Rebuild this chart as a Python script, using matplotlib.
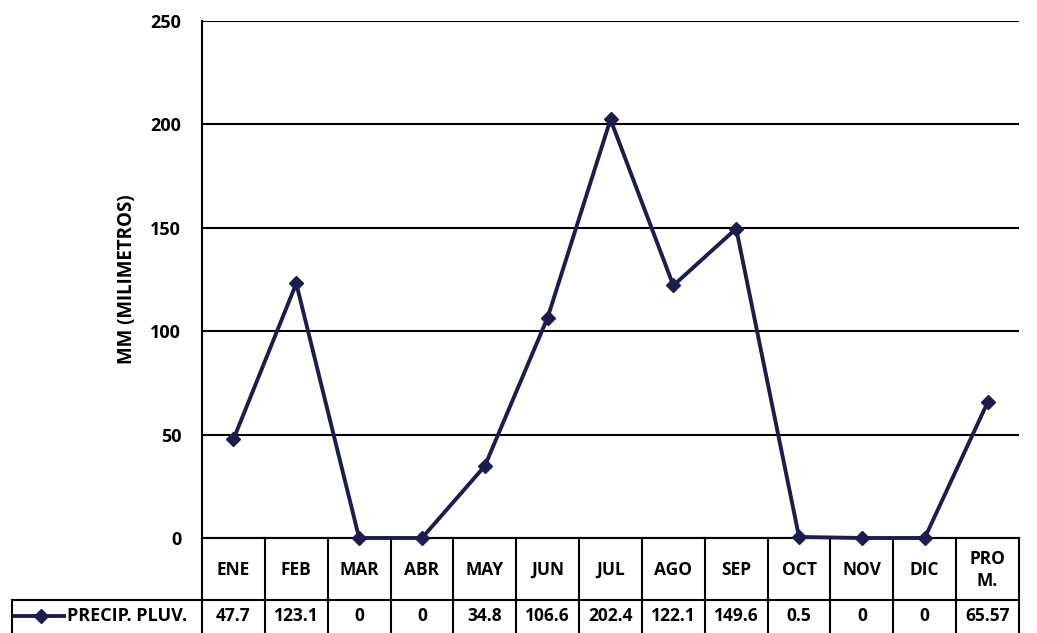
import matplotlib
matplotlib.use("Agg")
import matplotlib.pyplot as plt
from matplotlib.lines import Line2D

categories = ["ENE", "FEB", "MAR", "ABR", "MAY", "JUN", "JUL", "AGO", "SEP", "OCT", "NOV", "DIC", "PRO\nM."]
values = [47.7, 123.1, 0, 0, 34.8, 106.6, 202.4, 122.1, 149.6, 0.5, 0, 0, 65.57]
value_labels = ["47.7", "123.1", "0", "0", "34.8", "106.6", "202.4", "122.1", "149.6", "0.5", "0", "0", "65.57"]
series_name = "PRECIP. PLUV."
yticks = [0, 50, 100, 150, 200, 250]

plt.rcParams['font.family'] = ['Open Sans', 'DejaVu Sans']
color = "#1c1c4e"
fs = 12.5

W, H = 1037, 633
fig = plt.figure(figsize=(W / 100, H / 100), dpi=100)
x0, x1, ytop, ybot = 202, 1019, 21, 538
ax = fig.add_axes([x0 / W, (H - ybot) / H, (x1 - x0) / W, (ybot - ytop) / H])

n = len(categories)
xs = list(range(n))
ax.plot(xs, values, color=color, lw=2.8, marker="D", ms=7.5, zorder=5, clip_on=False)
ax.set_xlim(-0.5, n - 0.5)
ax.set_ylim(0, 250)
ax.set_yticks(yticks)
ax.set_yticklabels([str(v) for v in yticks], fontsize=13, fontweight="bold")
ax.tick_params(axis="y", length=0, pad=15)
ax.set_xticks([])
for v in yticks:
    ax.axhline(v, color="black", lw=1.5, zorder=1)
for s in ["top", "right", "bottom"]:
    ax.spines[s].set_visible(False)
ax.spines["left"].set_linewidth(1.5)

ah = ybot - ytop
aw = x1 - x0
def ay(py):
    return -(py - ybot) / ah
def axx(px):
    return (px - x0) / aw

ax.set_ylabel("MM (MILIMETROS)", fontsize=13.5, fontweight="bold")
ax.yaxis.set_label_coords(axx(137), 0.5)

tr = ax.transAxes
y_head_bot = ay(600)
y_bot = ay(633)
lw = 1.5
for i in range(n + 1):
    xb = i / n
    ax.add_line(Line2D([xb, xb], [0, y_bot], transform=tr, color="black", lw=lw, clip_on=False))
ax.add_line(Line2D([axx(12), 1], [y_head_bot, y_head_bot], transform=tr, color="black", lw=lw, clip_on=False))
ax.add_line(Line2D([axx(12), axx(12)], [y_head_bot, y_bot], transform=tr, color="black", lw=lw, clip_on=False))
ax.add_line(Line2D([0, 1], [0, 0], transform=tr, color="black", lw=lw, clip_on=False, zorder=2))

yh = ay(570)
yv = ay(616)
for i, (c, v) in enumerate(zip(categories, value_labels)):
    xc = (i + 0.5) / n
    ax.text(xc, yh, c, transform=tr, ha="center", va="center",
            fontsize=fs, fontweight="bold", linespacing=1.35)
    ax.text(xc, yv, v, transform=tr, ha="center", va="center",
            fontsize=fs, fontweight="bold")

ax.add_line(Line2D([axx(15), axx(64)], [yv, yv], transform=tr, color=color, lw=2.8,
                   clip_on=False))
ax.add_line(Line2D([axx(41)], [yv], transform=tr, color=color, marker="D", ms=7.5,
                   clip_on=False))
ax.text(axx(67), yv, series_name, transform=tr, ha="left", va="center",
        fontsize=13, fontweight="bold")

fig.savefig("out.png", dpi=100)
